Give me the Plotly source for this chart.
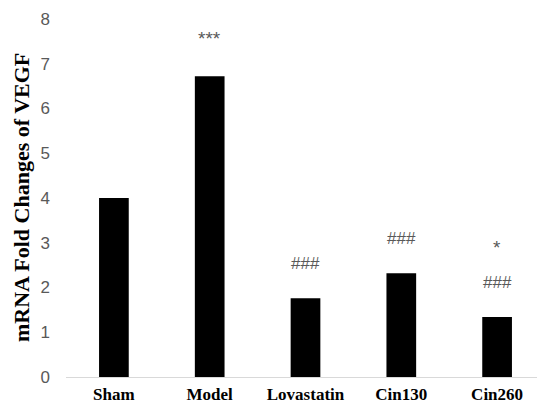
import plotly.graph_objects as go

categories = ["Sham", "Model", "Lovastatin", "Cin130", "Cin260"]
values = [4.0, 6.72, 1.76, 2.32, 1.34]
sig_upper = ["", "***", "", "", "*"]
sig_lower = ["", "", "###", "###", "###"]
y_ticks = [0, 1, 2, 3, 4, 5, 6, 7, 8]

# page body has an 8px default margin; size the figure so it fills the window
W, H = 537, 397
L, R, T, B = 58, 0, 11, 28

fig = go.Figure()
fig.add_trace(go.Bar(
    x=categories, y=values,
    marker=dict(color="black", line=dict(width=0)),
    width=0.31,
))

ann_font = dict(family="Liberation Sans", size=17, color="#595959")
annotations = []
for c, v, up, lo in zip(categories, values, sig_upper, sig_lower):
    if lo:
        annotations.append(dict(x=c, y=v, yref="y", text=lo, showarrow=False,
                                yshift=35, font=ann_font))
    if up:
        shift = 70 if lo else 38
        annotations.append(dict(x=c, y=v, yref="y", text=up, showarrow=False,
                                yshift=shift, font=dict(family="Liberation Sans", size=19, color="#595959")))

plot_w = W - L - R
annotations.append(dict(
    x=(13 - L) / plot_w, xref="paper", xanchor="center", y=0.5, yref="paper",
    yanchor="middle",
    text="<b>mRNA Fold Changes of VEGF</b>", textangle=-90, showarrow=False,
    font=dict(family="Liberation Serif", size=22, color="black"),
))

fig.update_layout(
    width=W, height=H,
    margin=dict(l=L, r=R, t=T, b=B, pad=0, autoexpand=False),
    paper_bgcolor="white", plot_bgcolor="white",
    showlegend=False,
    annotations=annotations,
    xaxis=dict(
        showline=True, linecolor="#d9d9d9", linewidth=1,
        ticks="", showgrid=False, automargin=False,
        tickfont=dict(family="Liberation Serif", size=17, color="black"),
        tickprefix="<b>", ticksuffix="</b>",
        ticklabelstandoff=2,
    ),
    yaxis=dict(
        range=[0, 8], tickvals=y_ticks, showgrid=False, zeroline=False,
        showline=False, ticks="", automargin=False,
        tickfont=dict(family="Liberation Sans", size=17, color="#595959"),
        ticklabelstandoff=15,
    ),
)

fig.write_html("out.html")
